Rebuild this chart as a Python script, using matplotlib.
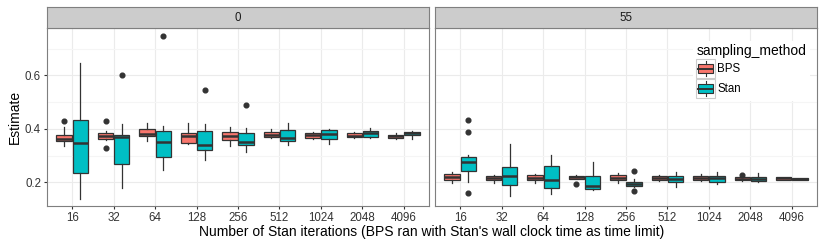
import matplotlib
matplotlib.use("Agg")
import matplotlib.pyplot as plt
from matplotlib.patches import Rectangle, Patch
from matplotlib.lines import Line2D
from matplotlib.legend_handler import HandlerBase

plt.rcParams['font.family'] = ['Liberation Sans', 'DejaVu Sans']

# Data: (lower whisker, q1, median, q3, upper whisker) per iteration count
iterations = ['16', '32', '64', '128', '256', '512', '1024', '2048', '4096']
facets = ['0', '55']

bps_0 = [(0.336, 0.354, 0.363, 0.379, 0.406),
         (0.360, 0.364, 0.374, 0.385, 0.394),
         (0.356, 0.373, 0.381, 0.400, 0.423),
         (0.344, 0.348, 0.373, 0.383, 0.423),
         (0.338, 0.358, 0.375, 0.388, 0.406),
         (0.366, 0.370, 0.379, 0.388, 0.400),
         (0.361, 0.365, 0.378, 0.385, 0.389),
         (0.366, 0.369, 0.375, 0.383, 0.388),
         (0.364, 0.366, 0.373, 0.379, 0.385)]
bps_0_out = {0: [0.428], 1: [0.428, 0.329]}

stan_0 = [(0.139, 0.235, 0.348, 0.435, 0.648),
          (0.179, 0.270, 0.369, 0.379, 0.419),
          (0.246, 0.296, 0.351, 0.391, 0.410),
          (0.285, 0.320, 0.341, 0.391, 0.419),
          (0.314, 0.340, 0.350, 0.383, 0.403),
          (0.341, 0.356, 0.366, 0.395, 0.423),
          (0.345, 0.364, 0.380, 0.395, 0.400),
          (0.366, 0.371, 0.385, 0.393, 0.404),
          (0.364, 0.376, 0.384, 0.390, 0.394)]
stan_0_out = {1: [0.601], 2: [0.748], 3: [0.544], 4: [0.491]}

bps_55 = [(0.198, 0.209, 0.220, 0.233, 0.238),
          (0.198, 0.210, 0.218, 0.225, 0.226),
          (0.199, 0.209, 0.218, 0.229, 0.233),
          (0.213, 0.214, 0.220, 0.225, 0.228),
          (0.198, 0.208, 0.218, 0.228, 0.235),
          (0.204, 0.209, 0.216, 0.223, 0.228),
          (0.206, 0.209, 0.215, 0.224, 0.230),
          (0.206, 0.209, 0.214, 0.219, 0.223),
          (0.210, 0.211, 0.215, 0.219, 0.221)]
bps_55_out = {3: [0.196], 7: [0.228]}

stan_55 = [(0.200, 0.244, 0.276, 0.295, 0.303),
           (0.150, 0.191, 0.225, 0.259, 0.343),
           (0.158, 0.181, 0.208, 0.260, 0.303),
           (0.173, 0.175, 0.188, 0.225, 0.278),
           (0.183, 0.188, 0.195, 0.203, 0.213),
           (0.183, 0.201, 0.214, 0.223, 0.238),
           (0.194, 0.201, 0.215, 0.224, 0.238),
           (0.201, 0.204, 0.213, 0.220, 0.235),
           (0.208, 0.209, 0.213, 0.216, 0.218)]
stan_55_out = {0: [0.433, 0.388, 0.161], 4: [0.244, 0.169]}

methods = ['BPS', 'Stan']
colors = {'BPS': '#F8766D', 'Stan': '#00BFC4'}

panel_data = {
    '0': {'BPS': (bps_0, bps_0_out), 'Stan': (stan_0, stan_0_out)},
    '55': {'BPS': (bps_55, bps_55_out), 'Stan': (stan_55, stan_55_out)},
}


def make_stats(rows, outliers):
    stats = []
    for i, (lo, q1, med, q3, hi) in enumerate(rows):
        stats.append(dict(whislo=lo, q1=q1, med=med, q3=q3, whishi=hi,
                          fliers=outliers.get(i, [])))
    return stats


class BoxKey(HandlerBase):
    def create_artists(self, legend, orig_handle, xdescent, ydescent,
                       width, height, fontsize, trans):
        x0, y0 = -xdescent, -ydescent
        bg = Rectangle((x0, y0), width, height, facecolor='white',
                       edgecolor='#CCCCCC', lw=0.8, transform=trans)
        box = Rectangle((x0 + 0.1 * width, y0 + 0.25 * height), 0.8 * width,
                        0.5 * height, facecolor=orig_handle.get_facecolor(),
                        edgecolor='#333333', lw=0.8, transform=trans)
        cx = x0 + width / 2
        wh1 = Line2D([cx, cx], [y0 + 0.1 * height, y0 + 0.25 * height],
                     color='#333333', lw=0.8, transform=trans)
        wh2 = Line2D([cx, cx], [y0 + 0.75 * height, y0 + 0.9 * height],
                     color='#333333', lw=0.8, transform=trans)
        med = Line2D([x0 + 0.1 * width, x0 + 0.9 * width],
                     [y0 + 0.5 * height] * 2, color='#333333', lw=1.4,
                     transform=trans)
        return [bg, box, wh1, wh2, med]


W, H = 824, 247
fig = plt.figure(figsize=(W / 100, H / 100), dpi=100)

panel_left = [47.3, 435.3]
panel_w = 381.4
panel_top, panel_bottom = 28.3, 206.0
strip_top = 6.7

axes = []
for k, facet in enumerate(facets):
    ax = fig.add_axes([panel_left[k] / W, 1 - panel_bottom / H,
                       panel_w / W, (panel_bottom - panel_top) / H])
    axes.append(ax)
    pos = list(range(1, len(iterations) + 1))
    for m, method in enumerate(methods):
        rows, outs = panel_data[facet][method]
        offset = -0.195 if m == 0 else 0.195
        ax.bxp(make_stats(rows, outs), positions=[p + offset for p in pos],
               widths=0.37, patch_artist=True, showcaps=False,
               boxprops=dict(facecolor=colors[method], edgecolor='#333333', lw=0.9),
               whiskerprops=dict(color='#333333', lw=0.9),
               medianprops=dict(color='#333333', lw=1.8),
               flierprops=dict(marker='o', markerfacecolor='#333333',
                               markeredgecolor='#333333', markersize=3.4),
               manage_ticks=False, zorder=3)
    ax.set_xlim(0.4, len(iterations) + 0.6)
    ax.set_ylim(0.112, 0.776)
    ax.set_xticks(pos)
    ax.set_xticklabels(iterations)
    ax.set_yticks([0.2, 0.4, 0.6])
    ax.set_yticks([0.3, 0.5, 0.7], minor=True)
    ax.grid(True, which='major', color='#EBEBEB', lw=0.8, zorder=0)
    ax.grid(True, which='minor', axis='y', color='#F5F5F5', lw=0.8, zorder=0)
    ax.set_axisbelow(True)
    for s in ax.spines.values():
        s.set_color('#7F7F7F')
        s.set_linewidth(0.8)
    ax.tick_params(axis='both', which='major', length=2.5, width=0.8,
                   color='#333333', labelsize=8.3, labelcolor='#333333', pad=2)
    ax.tick_params(axis='y', which='minor', length=0)
    if k == 1:
        ax.tick_params(axis='y', which='major', length=0, labelleft=False)
    else:
        ax.set_yticklabels(['0.2', '0.4', '0.6'])

    # facet strip
    sax = fig.add_axes([panel_left[k] / W, 1 - panel_top / H,
                        panel_w / W, (panel_top - strip_top) / H])
    sax.set_facecolor('#CCCCCC')
    sax.set_xticks([])
    sax.set_yticks([])
    for s in sax.spines.values():
        s.set_color('#7F7F7F')
        s.set_linewidth(0.8)
    sax.text(0.5, 0.5, facet, ha='center', va='center', fontsize=8.3,
             color='#1A1A1A', transform=sax.transAxes)

handles = [Patch(facecolor=colors[m]) for m in methods]
leg = axes[1].legend(handles, methods, handler_map={Patch: BoxKey()},
                     title='sampling_method', loc='upper left',
                     bbox_to_anchor=(0.66, 0.962), frameon=True,
                     fontsize=8.3, title_fontsize=10, handlelength=1.62,
                     handleheight=2.15, labelspacing=0.08, handletextpad=0.2,
                     borderpad=0.3, alignment='left')
leg.get_frame().set_edgecolor('none')
leg.get_frame().set_facecolor('white')
leg.get_frame().set_alpha(1)

fig.text((panel_left[0] + panel_left[1] + panel_w) / 2 / W, 1 - 232 / H,
         "Number of Stan iterations (BPS ran with Stan's wall clock time as time limit)",
         ha='center', va='center', fontsize=10)
fig.text(15 / W, 1 - (panel_top + panel_bottom) / 2 / H, 'Estimate',
         rotation=90, ha='center', va='center', fontsize=10)

fig.savefig('out.png', dpi=100, facecolor='white')
